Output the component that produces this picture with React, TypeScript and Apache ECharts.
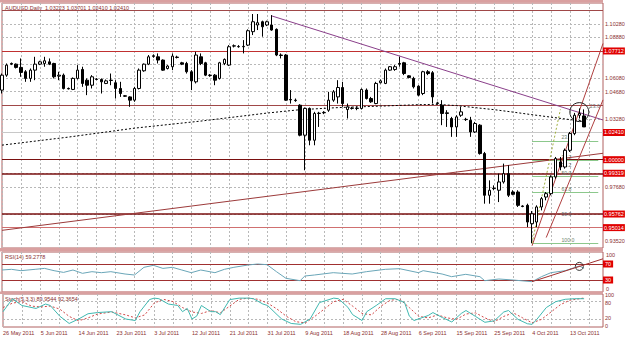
import React, { useEffect, useRef } from "react";
import * as echarts from "echarts";

// ---------- data ----------
const MONTHS = ["Jan", "Feb", "Mar", "Apr", "May", "Jun", "Jul", "Aug", "Sep", "Oct", "Nov", "Dec"];
const TOTAL_SLOTS = 128; // 124 daily bars + empty space on the right

// [open, close, low, high]
const candles: number[][] = [
  [1.0512, 1.0622, 1.0487, 1.0634], [1.0622, 1.0696, 1.061, 1.0708], [1.0708, 1.0703, 1.0696, 1.0715], [1.0703, 1.0679, 1.0671, 1.0708],
  [1.0679, 1.0642, 1.061, 1.0745], [1.0647, 1.0598, 1.0573, 1.0659], [1.0598, 1.0659, 1.0573, 1.0671], [1.0659, 1.0703, 1.0585, 1.0757],
  [1.0703, 1.072, 1.0696, 1.0728], [1.0708, 1.0728, 1.0684, 1.0757], [1.072, 1.0703, 1.0696, 1.0745], [1.0708, 1.061, 1.0598, 1.0713],
  [1.0615, 1.0622, 1.0585, 1.0647], [1.0622, 1.0524, 1.0517, 1.0634], [1.0524, 1.0521, 1.0517, 1.0531], [1.0517, 1.0598, 1.0512, 1.0605],
  [1.0598, 1.0659, 1.059, 1.0696], [1.0664, 1.0561, 1.0536, 1.0684], [1.0585, 1.0548, 1.0475, 1.0598], [1.0548, 1.061, 1.0524, 1.0622],
  [1.059, 1.0593, 1.0585, 1.06], [1.059, 1.0573, 1.0487, 1.0598], [1.0561, 1.058, 1.0556, 1.059], [1.0585, 1.0583, 1.0548, 1.0634],
  [1.0566, 1.0524, 1.045, 1.0585], [1.0524, 1.0487, 1.0462, 1.0573], [1.047, 1.0467, 1.0462, 1.0475], [1.0462, 1.0438, 1.0389, 1.0467],
  [1.0438, 1.0524, 1.0426, 1.0536], [1.0524, 1.0659, 1.0517, 1.0671], [1.0654, 1.0703, 1.0647, 1.0708], [1.0703, 1.0757, 1.0696, 1.077],
  [1.076, 1.0765, 1.075, 1.0775], [1.0757, 1.0733, 1.0708, 1.0782], [1.0733, 1.0659, 1.0654, 1.0738], [1.0671, 1.0689, 1.0664, 1.0696],
  [1.0684, 1.0762, 1.0659, 1.0782], [1.0752, 1.0755, 1.0745, 1.0765], [1.0713, 1.0703, 1.0696, 1.072], [1.0708, 1.0647, 1.0634, 1.072],
  [1.0647, 1.058, 1.0512, 1.0659], [1.0573, 1.077, 1.0561, 1.0794], [1.0757, 1.0708, 1.0696, 1.0782], [1.0713, 1.0622, 1.0615, 1.072],
  [1.0622, 1.062, 1.061, 1.063], [1.0622, 1.0585, 1.0548, 1.063], [1.0598, 1.0713, 1.059, 1.072], [1.0708, 1.0738, 1.0696, 1.0745],
  [1.0696, 1.0831, 1.0689, 1.0843], [1.0836, 1.0838, 1.0826, 1.0848], [1.0831, 1.0833, 1.0824, 1.0843], [1.0831, 1.0834, 1.0782, 1.088],
  [1.0843, 1.0949, 1.0836, 1.0959], [1.0942, 1.1015, 1.0917, 1.1072], [1.0991, 1.1008, 1.0954, 1.1072], [1.1015, 1.0978, 1.0905, 1.1023],
  [1.0991, 1.1015, 1.0983, 1.1023], [1.0991, 1.0954, 1.0949, 1.1064], [1.0959, 1.077, 1.0762, 1.0966], [1.077, 1.0767, 1.0745, 1.0782],
  [1.077, 1.0438, 1.0433, 1.0777], [1.0443, 1.044, 1.0413, 1.0512], [1.0438, 1.0435, 1.0426, 1.045], [1.0401, 1.018, 1.0172, 1.0408],
  [1.018, 1.0377, 0.9922, 1.0384], [1.0377, 1.0143, 1.0106, 1.0384], [1.0143, 1.034, 1.0106, 1.0352], [1.034, 1.0342, 1.0241, 1.0352],
  [1.0345, 1.0347, 1.0335, 1.0357], [1.0364, 1.0438, 1.0352, 1.0499], [1.0438, 1.0499, 1.0426, 1.0512], [1.0462, 1.0531, 1.0413, 1.0585],
  [1.0531, 1.0413, 1.0389, 1.0573], [1.0369, 1.0389, 1.0303, 1.0413], [1.0377, 1.0379, 1.0369, 1.0389], [1.0379, 1.0377, 1.0364, 1.0392],
  [1.0377, 1.0517, 1.0369, 1.0524], [1.0512, 1.045, 1.0443, 1.0524], [1.045, 1.0426, 1.0418, 1.0462], [1.0413, 1.0561, 1.0408, 1.0573],
  [1.0566, 1.058, 1.0561, 1.059], [1.0561, 1.0659, 1.0556, 1.0671], [1.0659, 1.0684, 1.0654, 1.0689], [1.0664, 1.0684, 1.0654, 1.0696],
  [1.0708, 1.0703, 1.0684, 1.0757], [1.0713, 1.0634, 1.0622, 1.072], [1.0617, 1.0605, 1.0598, 1.0622], [1.0598, 1.0536, 1.0524, 1.061],
  [1.0541, 1.0475, 1.0467, 1.0548], [1.0487, 1.0647, 1.0475, 1.0654], [1.0647, 1.0634, 1.0622, 1.0659], [1.064, 1.0462, 1.0413, 1.0652],
  [1.0413, 1.0418, 1.0406, 1.0426], [1.0401, 1.034, 1.0254, 1.0438], [1.034, 1.0345, 1.0241, 1.0364], [1.0303, 1.0241, 1.0168, 1.0315],
  [1.0241, 1.0315, 1.0168, 1.0327], [1.0327, 1.0352, 1.0315, 1.0389], [1.0295, 1.0297, 1.0285, 1.0308], [1.029, 1.0204, 1.0168, 1.0315],
  [1.0204, 1.0266, 1.0197, 1.0278], [1.0254, 1.0045, 1.0037, 1.0261], [1.0045, 0.9738, 0.9676, 1.0057], [0.9738, 0.9775, 0.9676, 0.9848],
  [0.9787, 0.979, 0.9775, 0.9811], [0.9775, 0.9836, 0.9688, 0.9897], [0.9836, 0.9897, 0.9824, 0.9971], [0.9897, 0.9738, 0.9725, 0.9959],
  [0.9762, 0.9745, 0.9738, 0.9775], [0.9762, 0.9664, 0.9652, 0.9775], [0.9659, 0.9656, 0.965, 0.9664], [0.9664, 0.9541, 0.9504, 0.9676],
  [0.9529, 0.9602, 0.9385, 0.9622], [0.9541, 0.9652, 0.9504, 0.9664], [0.9652, 0.9713, 0.9627, 0.9725], [0.9725, 0.975, 0.9701, 0.9762],
  [0.975, 0.9873, 0.9738, 0.9885], [0.9873, 1.0008, 0.986, 1.002], [0.9983, 0.9946, 0.9922, 1.002], [0.9946, 1.0069, 0.9934, 1.0082],
  [1.0069, 1.0192, 1.0057, 1.0204], [1.0192, 1.0327, 1.018, 1.0344], [1.0327, 1.034, 1.0303, 1.0377], [1.03223, 1.0241, 1.0241, 1.03701],
];

// moving average (dotted), [bar, price]
const maPoints: number[][] = [
  [0, 1.0107], [14, 1.0166], [28, 1.0232], [42, 1.0284], [56, 1.0343], [63, 1.0368], [72, 1.0385], [80, 1.0394],
  [88, 1.0405], [92, 1.0407], [96, 1.0398], [100, 1.0383], [104, 1.0368], [108, 1.035], [112, 1.0331], [116, 1.0313],
  [120, 1.0295], [123, 1.0284],
];

const rsiPoints: number[][] = [
  [0, 55], [2, 56.7], [4, 53.3], [7, 56.7], [9, 59], [11, 53.3], [13, 49], [15, 55], [17, 46.7], [19, 50.8], [21, 48.3],
  [23, 50.8], [26, 45], [28, 42.5], [30, 61.7], [32, 66.7], [34, 59], [36, 61.7], [38, 55], [40, 48.3], [42, 55], [45, 48.3],
  [47, 56.7], [49, 61.7], [52, 67.5], [54, 70], [56, 68.3], [58, 50.8], [60, 34.2], [63, 28.3], [64, 40], [66, 42.5],
  [70, 48.3], [74, 45], [77, 50.8], [81, 56.7], [84, 58.3], [88, 48.3], [89, 53.3], [93, 45], [95, 38.3], [98, 44.2],
  [101, 38.3], [102, 28.3], [105, 32.5], [108, 30], [112, 25.8], [114, 38.3], [116, 48.3], [119, 53.3], [122, 65], [123, 59.28],
];

const stochMain: number[][] = [
  [0, 46], [2, 90], [4, 67], [7, 57], [9, 72], [10, 67], [12, 31], [14, 6], [16, 21], [18, 39], [20, 43], [23, 46], [26, 21],
  [28, 16], [29, 46], [31, 87], [32, 92], [33, 90], [35, 72], [37, 67], [38, 46], [39, 57], [40, 21], [41, 31], [42, 67],
  [44, 46], [45, 46], [46, 36], [48, 87], [50, 92], [52, 92], [53, 90], [55, 72], [56, 67], [58, 36], [59, 21], [61, 6],
  [63, 3], [65, 21], [67, 77], [70, 92], [71, 90], [73, 61], [74, 36], [76, 16], [77, 46], [79, 67], [81, 90], [83, 90],
  [85, 77], [86, 31], [87, 16], [90, 33], [91, 43], [93, 26], [95, 11], [97, 40], [98, 50], [100, 30], [102, 10], [104, 15],
  [106, 45], [107, 50], [109, 20], [111, 5], [112, 3], [113, 20], [115, 60], [117, 80], [119, 88], [121, 90], [123, 89.95],
];

const stochSignal: number[][] = [
  [0, 60], [2, 75], [4, 80], [6, 65], [8, 62], [10, 65], [12, 55], [14, 30], [16, 15], [18, 25], [20, 38], [23, 45], [26, 35],
  [28, 25], [30, 35], [32, 75], [34, 88], [36, 80], [38, 60], [40, 45], [42, 40], [44, 50], [46, 42], [48, 65], [50, 88],
  [52, 92], [54, 88], [56, 75], [58, 55], [60, 30], [62, 12], [64, 8], [66, 30], [68, 55], [70, 80], [72, 88], [74, 65],
  [76, 40], [78, 35], [80, 65], [82, 85], [84, 88], [86, 60], [88, 30], [90, 25], [92, 35], [94, 25], [96, 20], [98, 38],
  [100, 42], [102, 25], [104, 12], [106, 30], [108, 42], [110, 25], [112, 8], [114, 20], [116, 45], [118, 70], [120, 85], [123, 92.37],
];

const priceTicks = [1.1028, 1.0888, 1.0748, 1.0608, 1.0468, 1.0328, 1.0188, 1.0048, 0.9908, 0.9768, 0.9628, 0.9488];
const hiddenTickLabels = [1.0748, 0.9908, 0.9488];
const bottomPriceLabel = 0.9352;
const plainLevels = [1.1077, 1.037];
const redLevels = [1.07712, 1.0, 0.99319, 0.95762, 0.95014];
const bidPrice = 1.0241;
const fibHigh = 1.037;
const fibLow = 0.9385;
const fibRatios = [23.6, 38.2, 50.0, 61.8, 100.0];
const fibSpan = [112, 126];
const fibLabelBar = 118;
// extra level captions of a second retracement: [caption, bar, price]
const extraFibTexts: [string, number, number][] = [["23.6", 124, 1.037], ["38.2", 118, 0.99319], ["50.0", 118, 0.95762]];

const trendDown: number[][] = [[57, 1.1058], [127, 1.0292]];
const trendUpLong: number[][] = [[0, 0.948], [127, 1.0047]];
const channelUpper: number[][] = [[112, 0.9366], [127, 1.0855]];
const channelLower: number[][] = [[115, 0.9427], [127, 1.044]];
const fibDiagonal: number[][] = [[112, 0.9385], [118, 1.037]];
const rsiTrend: number[][] = [[112, 25.8], [127, 83]];
const rsiLevels = [70, 30];
const stochLevels = [80, 20];
const stochScaleLabels = [100, 80, 20, 0];
const circleMain = [122, 1.035];
const circleRsi = [122, 64];

const header = "AUDUSD,Daily  1.03223 1.03701 1.02410 1.02410";
const rsiTitle = "RSI(14) 59.2778";
const stochTitle = "Stoch(5,3,3) 89.9544 92.3654";

function buildDates(n: number): string[] {
  const out: string[] = [];
  const d = new Date(Date.UTC(2011, 4, 26));
  while (out.length < n) {
    if (d.getUTCDay() !== 6) out.push(`${d.getUTCDate()} ${MONTHS[d.getUTCMonth()]} ${d.getUTCFullYear()}`);
    d.setUTCDate(d.getUTCDate() + 1);
  }
  return out;
}

// ---------- styling ----------
const FONT = "Liberation Sans";
const FS = 5.5;
const TXT = "#8b2f2f";
const GRIDC = "#b8b8b8";
const RED = "#e00000";
const DARKRED = "#7a1010";

export default function App() {
  const ref = useRef<HTMLDivElement>(null);

  useEffect(() => {
    if (!ref.current) return;
    const chart = echarts.init(ref.current, undefined, { renderer: "svg" });
    const dates = buildDates(TOTAL_SLOTS);

    const xAxis = (gridIndex: number, showLabel: boolean) => ({
      type: "category",
      gridIndex,
      data: dates,
      boundaryGap: false,
      axisLine: { show: false },
      axisTick: { show: false },
      axisLabel: showLabel
        ? { show: true, interval: 7, align: "left", fontSize: FS, color: TXT, fontFamily: FONT, margin: 3 }
        : { show: false },
      splitLine: { show: true, interval: 3, lineStyle: { color: GRIDC, type: [2, 2], width: 1 } },
    });

    const plainLabel = (text: string, pad: number[] = [0, 0, 0, 0]) => ({
      show: true,
      position: "end",
      distance: 2,
      formatter: `{t|${text}}`,
      rich: { t: { color: TXT, fontSize: FS, fontFamily: FONT, padding: pad } },
    });

    const tickLines: any[] = priceTicks.map((v) => ({
      yAxis: v,
      lineStyle: { color: GRIDC, type: [2, 2], width: 1 },
      label: hiddenTickLabels.includes(v) ? { show: false } : plainLabel(v.toFixed(5)),
    }));
    tickLines.push({
      yAxis: bottomPriceLabel,
      lineStyle: { color: "rgba(0,0,0,0)", width: 0 },
      label: plainLabel(bottomPriceLabel.toFixed(5)),
    });

    const redLabel = (v: number) => ({
      show: true,
      position: "end",
      distance: 0,
      formatter: v.toFixed(5),
      color: "#fff",
      backgroundColor: RED,
      padding: [1, 1, 0, 1],
      fontSize: FS,
      fontFamily: FONT,
    });

    const levelLines: any[] = [
      ...plainLevels.map((v) => ({ yAxis: v, lineStyle: { color: "#a04848", width: 1, type: "solid" }, label: { show: false } })),
      ...redLevels.map((v) => ({
        yAxis: v,
        lineStyle: {
          color: v === 0.95014 ? "#d07070" : v === 1.07712 ? "#c03030" : DARKRED,
          width: v === 0.95014 || v === 1.07712 || v === 1.0 ? 1 : 1.6,
          type: "solid",
        },
        label: redLabel(v),
      })),
      { yAxis: bidPrice, lineStyle: { color: "#c8c8c8", width: 1, type: "solid" }, label: redLabel(bidPrice) },
    ];

    const captionSegment = (text: string, bar: number, price: number, color: string) => [
      { coord: [bar, price], lineStyle: { color: "rgba(0,0,0,0)", width: 0 } },
      {
        coord: [bar + 2, price],
        label: { show: true, position: "insideStartTop", distance: 1, formatter: text, color, fontSize: FS - 0.3, fontFamily: FONT },
      },
    ];

    const fibLines: any[] = [];
    fibRatios.forEach((r) => {
      const p = fibHigh - ((fibHigh - fibLow) * r) / 100;
      fibLines.push([
        { coord: [fibSpan[0], p], lineStyle: { color: "#8cc88c", width: 1, type: "solid" } },
        { coord: [fibSpan[1], p], label: { show: false } },
      ]);
      fibLines.push(captionSegment(r.toFixed(1), fibLabelBar, p, "#6f846f"));
    });
    extraFibTexts.forEach(([t, b, p]) => fibLines.push(captionSegment(t, b, p, "#707070")));

    const stochAxisLines: any[] = [
      ...stochLevels.map((v) => ({ yAxis: v, lineStyle: { color: GRIDC, type: [2, 2], width: 1 }, label: { show: false } })),
      ...stochScaleLabels.map((v) => ({
        yAxis: v,
        lineStyle: { color: "rgba(0,0,0,0)", width: 0 },
        label: plainLabel(`${v}`, v === 100 || v === 20 ? [0, 0, 2, 0] : [2, 0, 0, 0]),
      })),
    ];

    const lineSeries = (name: string, data: number[][], color: string, opts: any = {}) => ({
      type: "line",
      name,
      data,
      symbol: "none",
      silent: true,
      lineStyle: { color, width: 1, type: "solid", ...(opts.lineStyle || {}) },
      xAxisIndex: opts.grid ?? 0,
      yAxisIndex: opts.grid ?? 0,
      z: opts.z ?? 3,
    });

    const option: any = {
      animation: false,
      backgroundColor: "#ffffff",
      grid: [
        { left: 2, right: 22, top: 3, height: 245, show: true, borderColor: "#b06060", borderWidth: 1 },
        { left: 2, right: 22, top: 252, height: 40, show: true, borderColor: "#b06060", borderWidth: 1 },
        { left: 2, right: 22, top: 294, height: 33, show: true, borderColor: "#b06060", borderWidth: 1 },
      ],
      xAxis: [xAxis(0, false), xAxis(1, false), xAxis(2, true)],
      yAxis: [
        { type: "value", gridIndex: 0, min: 0.935, max: 1.1153, position: "right", axisLabel: { show: false }, splitLine: { show: false }, axisLine: { show: false }, axisTick: { show: false } },
        {
          type: "value", gridIndex: 1, min: 0, max: 100, interval: 100, position: "right",
          axisLine: { show: false }, axisTick: { show: false }, splitLine: { show: false },
          axisLabel: {
            margin: 3, fontSize: FS, color: TXT, fontFamily: FONT, showMinLabel: true, showMaxLabel: true,
            formatter: (v: number) => (v === 100 ? "{a|100}" : "{b|0}"),
            rich: { a: { padding: [5, 0, 0, 0], fontSize: FS, color: TXT }, b: { padding: [0, 0, 7, 0], fontSize: FS, color: TXT } },
          },
        },
        {
          type: "value", gridIndex: 2, min: -6, max: 106, position: "right",
          axisLine: { show: false }, axisTick: { show: false }, splitLine: { show: false }, axisLabel: { show: false },
        },
      ],
      graphic: [
        { type: "rect", shape: { x: 0, y: 0, width: 603, height: 2.5 }, style: { fill: "#d9a0a0" }, silent: true },
        { type: "rect", shape: { x: 0, y: 248, width: 603, height: 3.5 }, style: { fill: "#d9a0a0" }, silent: true },
        { type: "rect", shape: { x: 0, y: 291.5, width: 603, height: 2.5 }, style: { fill: "#d9a0a0" }, silent: true },
        { type: "text", x: 5, y: 5, style: { text: header, fontSize: FS, fill: TXT, fontFamily: FONT }, silent: true },
        { type: "text", x: 5, y: 254, style: { text: rsiTitle, fontSize: FS, fill: TXT, fontFamily: FONT }, silent: true },
        { type: "text", x: 5, y: 295.5, style: { text: stochTitle, fontSize: FS, fill: TXT, fontFamily: FONT }, silent: true },
      ],
      series: [
        {
          type: "line", name: "grid", data: [], xAxisIndex: 0, yAxisIndex: 0, silent: true,
          markLine: { silent: true, symbol: ["none", "none"], z: 1, data: tickLines, animation: false },
        },
        {
          type: "line", name: "levels", data: [], xAxisIndex: 0, yAxisIndex: 0, silent: true,
          markLine: { silent: true, symbol: ["none", "none"], z: 2, data: [...levelLines, ...fibLines], animation: false },
        },
        lineSeries("ma", maPoints, "#000", { lineStyle: { type: [2, 2] }, z: 3 }),
        lineSeries("trendDown", trendDown, "#8a3f8a", { z: 3 }),
        lineSeries("trendUpLong", trendUpLong, "#9c3a3a", { z: 3 }),
        lineSeries("channelUpper", channelUpper, "#b04040", { z: 3 }),
        lineSeries("channelLower", channelLower, "#b04040", { z: 3 }),
        lineSeries("fibDiagonal", fibDiagonal, "#a0b040", { lineStyle: { type: [2, 2] }, z: 3 }),
        {
          type: "candlestick",
          name: "AUDUSD",
          data: candles,
          xAxisIndex: 0,
          yAxisIndex: 0,
          barWidth: 3,
          z: 5,
          silent: true,
          itemStyle: { color: "#ffffff", color0: "#000000", borderColor: "#000000", borderColor0: "#000000", borderWidth: 1 },
          markPoint: {
            silent: true,
            data: [{ coord: circleMain, symbol: "circle", symbolSize: 19, itemStyle: { color: "rgba(0,0,0,0)", borderColor: "#222", borderWidth: 1 }, label: { show: false } }],
          },
        },
        {
          ...lineSeries("rsi", rsiPoints, "#6aa6b8", { grid: 1, z: 4 }),
          markLine: {
            silent: true, symbol: ["none", "none"], z: 2,
            data: rsiLevels.map((v) => ({
              yAxis: v,
              lineStyle: { color: "#a03030", width: 1, type: "solid" },
              label: { show: true, position: "end", distance: 0, formatter: `${v}`, color: "#fff", backgroundColor: RED, padding: [1, 2, 0, 2], fontSize: FS, fontFamily: FONT },
            })),
          },
          markPoint: {
            silent: true,
            data: [{ coord: circleRsi, symbol: "circle", symbolSize: 8, itemStyle: { color: "rgba(0,0,0,0)", borderColor: "#333", borderWidth: 1 }, label: { show: false } }],
          },
        },
        lineSeries("rsiTrend", rsiTrend, "#a03030", { grid: 1, z: 5 }),
        {
          ...lineSeries("stochSignal", stochSignal, "#d04848", { grid: 2, lineStyle: { type: [2, 2] }, z: 3 }),
          markLine: { silent: true, symbol: ["none", "none"], z: 1, data: stochAxisLines, animation: false },
        },
        lineSeries("stochMain", stochMain, "#40b8b0", { grid: 2, z: 4 }),
      ],
    };

    chart.setOption(option);
    return () => chart.dispose();
  }, []);

  return <div ref={ref} style={{ width: 625, height: 342, position: "absolute", left: 0, top: 0, background: "#fff" }} />;
}
